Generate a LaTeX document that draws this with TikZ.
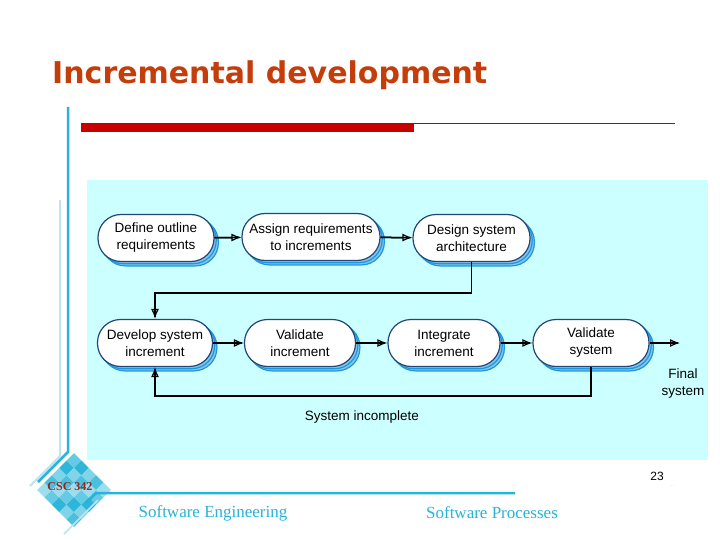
\documentclass[tikz,border=0pt]{standalone}
\usepackage{fontspec}
\setmainfont{Liberation Sans}
\newfontfamily\titlefont{DejaVu Sans}
\newfontfamily\footfont{Liberation Serif}
\usetikzlibrary{positioning,shadows,arrows.meta}
\definecolor{titlered}{RGB}{196,62,12}
\definecolor{barred}{RGB}{200,0,0}
\definecolor{panel}{RGB}{204,255,255}
\definecolor{slideblue}{RGB}{38,180,216}
\definecolor{paleblue}{RGB}{190,228,242}
\definecolor{boxline}{RGB}{35,70,120}
\definecolor{boxshadow}{RGB}{30,150,220}
\definecolor{logored}{RGB}{150,40,30}

\begin{document}
\begin{tikzpicture}[x=1pt,y=-1pt,
	stage/.style={draw=boxline, line width=1.2pt, fill=white, rounded corners=23pt,
		minimum height=47pt, inner sep=0pt, align=center,
		font=\fontsize{13.5}{17}\selectfont,
		double copy shadow={shadow xshift=2.2pt, shadow yshift=-2.2pt, draw=boxshadow, fill=boxshadow!55}},
	flow/.style={-{Latex[open,length=10pt,width=8pt,line width=1.2pt]}, line width=1.5pt,
		postaction={draw, -, shorten >=2pt}},
	note/.style={align=center, font=\fontsize{13.5}{17}\selectfont},
	foot/.style={text=slideblue, font=\footfont\fontsize{17}{19}\selectfont}]
	\useasboundingbox[fill=white] (0,0) rectangle (720,540);
	\node[anchor=base west, text=titlered, font=\titlefont\bfseries\fontsize{30}{33}\selectfont, inner sep=0pt] (title) at (52,84) {Incremental development};
	\fill[barred] (81,123) rectangle (414,132);
	\draw[barred, line width=0.8pt] (414,123.5) -- (675,123.5);
	\draw[paleblue, line width=2pt] (60,200) -- (60,456) -- (30,486);
	\draw[slideblue, line width=2.5pt] (68,107) -- (68,452) -- (38,482);
	\fill[panel] (87,180) rectangle (708,460);
	\node[stage, minimum width=116pt] (define) at (156,238) {Define outline\\requirements};
	\node[stage, minimum width=138pt] (assign) at (311,237) {Assign requirements\\to increments};
	\node[stage, minimum width=117pt] (design) at (471.5,238) {Design system\\architecture};
	\node[stage, minimum width=115pt] (develop) at (155,343) {Develop system\\increment};
	\node[stage, minimum width=111pt] (valinc) at (300,343) {Validate\\increment};
	\node[stage, minimum width=112pt] (integ) at (444,343) {Integrate\\increment};
	\node[stage, minimum width=116pt] (valsys) at (591,343) {Validate\\system};
	\coordinate (turn) at (155,293);
	\coordinate (back) at (155,396);
	\coordinate (final) at (680,343);
	\draw[flow] (define) -- (assign);
	\draw[flow] (assign) -- (design);
	\draw[flow] (design.south) |- (turn) -- (develop.north);
	\draw[flow] (develop) -- (valinc);
	\draw[flow] (valinc) -- (integ);
	\draw[flow] (integ) -- (valsys);
	\draw[flow] (valsys) -- (final);
	\draw[flow] (valsys.south) |- (back) -- (develop.south);
	\node[note] (finallbl) at (683,384) {Final\\system};
	\node[note] (incomplete) at (362,417) {System incomplete};
	\node[font=\fontsize{12}{14}\selectfont] (page) at (657,476) {23};
	\node[text=gray, font=\tiny] (dot) at (672,486) {.};
	\begin{scope}[shift={(74,490)}, rotate=45]
		\foreach \i in {0,...,4}
		\foreach \j in {0,...,4} {
			\pgfmathtruncatemacro\shade{45+mod(\i*3+\j*7,5)*13}
			\fill[slideblue!\shade] (\i*10.4-26,\j*10.4-26) rectangle +(10.4,10.4);
		}
	\end{scope}
	\node[text=logored, font=\footfont\bfseries\fontsize{12}{13}\selectfont] (logo) at (70,487) {CSC 342};
	\draw[slideblue, line width=2.5pt] (86,503) -- (96,493) -- (515,493);
	\draw[paleblue, line width=1.5pt] (98,500) -- (64,534);
	\node[foot] (course) at (213,513) {Software Engineering};
	\node[foot] (topic) at (492,513) {Software Processes};
\end{tikzpicture}
\end{document}
